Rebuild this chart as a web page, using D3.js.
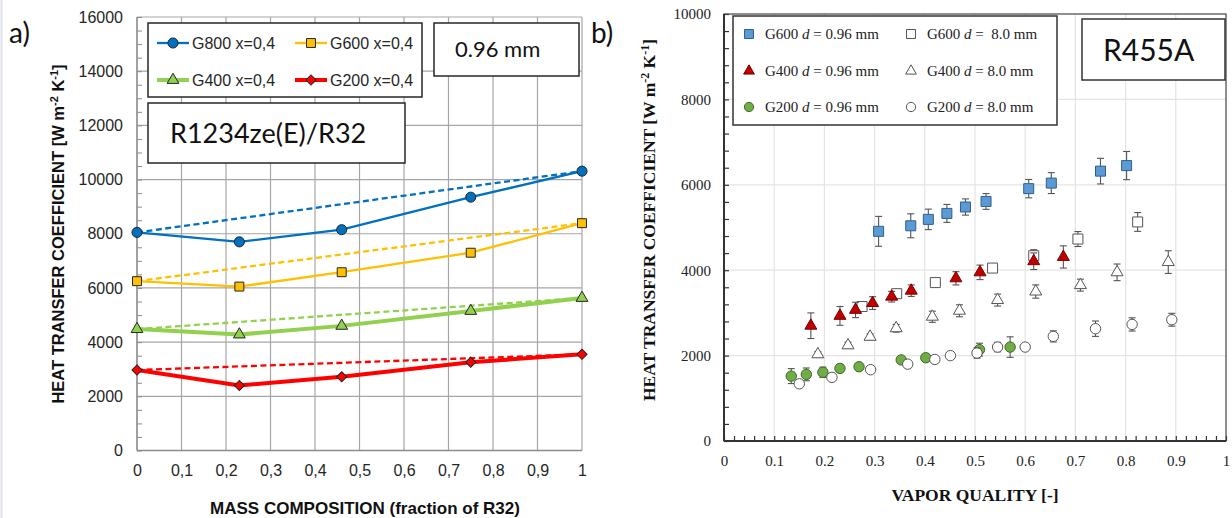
<!DOCTYPE html>
<html>
<head>
<meta charset="utf-8">
<script src="https://cdn.jsdelivr.net/npm/d3@7"></script>
<style>
  body { margin: 0; background: #fff; }
  svg { display: block; }
</style>
</head>
<body>
<svg id="chart" width="1232" height="518"></svg>
<script>
// ---- panel a) : R1234ze(E)/R32, HTC vs mass composition ----
var compX = [0, 0.23, 0.46, 0.75, 1];
var htcG800 = [8050, 7700, 8150, 9350, 10310];
var htcG600 = [6250, 6050, 6580, 7300, 8390];
var htcG400 = [4480, 4280, 4600, 5150, 5630];
var htcG200 = [2970, 2400, 2720, 3260, 3550];
var leftNames = ["G800 x=0,4", "G600 x=0,4", "G400 x=0,4", "G200 x=0,4"];

// ---- panel b) : R455A, HTC vs vapor quality ----
var qG600s = [0.308, 0.372, 0.407, 0.444, 0.481, 0.522, 0.607, 0.652, 0.750, 0.802];
var hG600s = [4910, 5040, 5190, 5330, 5480, 5610, 5910, 6040, 6320, 6450];
var eG600s = [350, 280, 240, 210, 190, 185, 215, 245, 300, 330];
var qG600l = [0.275, 0.344, 0.421, 0.535, 0.617, 0.705, 0.824];
var hG600l = [3150, 3450, 3710, 4050, 4340, 4730, 5130];
var eG600l = [115, 80, 60, 60, 140, 175, 220];
var qG400s = [0.173, 0.231, 0.262, 0.296, 0.334, 0.373, 0.462, 0.510, 0.617, 0.676];
var hG400s = [2700, 2930, 3070, 3230, 3380, 3520, 3810, 3950, 4210, 4310];
var eG400s = [300, 220, 180, 150, 125, 135, 155, 170, 195, 260];
var qG400l = [0.187, 0.247, 0.291, 0.343, 0.415, 0.469, 0.545, 0.621, 0.710, 0.783, 0.885];
var hG400l = [2030, 2240, 2440, 2640, 2910, 3050, 3300, 3500, 3650, 3950, 4190];
var eG400l = [60, 70, 70, 90, 130, 140, 140, 155, 140, 195, 265];
var qG200s = [0.134, 0.164, 0.197, 0.231, 0.269, 0.353, 0.402, 0.509, 0.570];
var hG200s = [1520, 1560, 1610, 1700, 1740, 1900, 1950, 2140, 2200];
var eG200s = [175, 150, 120, 90, 80, 70, 80, 150, 240];
var qG200l = [0.150, 0.215, 0.292, 0.366, 0.420, 0.451, 0.504, 0.545, 0.600, 0.656, 0.740, 0.813, 0.892];
var hG200l = [1340, 1490, 1670, 1800, 1910, 2000, 2060, 2200, 2200, 2450, 2630, 2730, 2840];
var eG200l = [40, 50, 50, 50, 50, 50, 120, 110, 50, 130, 180, 155, 150];

var svg = d3.select("#chart");
var sans = "'Liberation Sans', Arial, sans-serif";
var serif = "'Liberation Serif', 'Times New Roman', serif";
var calib = "Lato, 'Open Sans', sans-serif";

// faint frame line at far left
svg.append("line").attr("x1", 1.5).attr("x2", 1.5).attr("y1", 0).attr("y2", 518)
    .attr("stroke", "#dde2e8").attr("stroke-width", 2);

/* ================= LEFT ================= */
var xL = d3.scaleLinear().domain([0, 1]).range([137, 582]);
var yL = d3.scaleLinear().domain([0, 16000]).range([450.5, 17]);
var gL = svg.append("g");

// grid
gL.append("g").selectAll("line").data(d3.range(0, 1.0001, 0.1)).enter().append("line")
    .attr("x1", function(d) { return xL(d); }).attr("x2", function(d) { return xL(d); })
    .attr("y1", yL(16000)).attr("y2", yL(0))
    .attr("stroke", "#a6a6a6").attr("stroke-width", 1.2);
gL.append("g").selectAll("line").data(d3.range(0, 16001, 2000)).enter().append("line")
    .attr("x1", xL(0)).attr("x2", xL(1))
    .attr("y1", function(d) { return yL(d); }).attr("y2", function(d) { return yL(d); })
    .attr("stroke", "#a6a6a6").attr("stroke-width", 1.2);

// minor ticks inside
gL.append("g").attr("transform", "translate(" + xL(0) + ",0)")
    .call(d3.axisRight(yL).tickValues(d3.range(0, 16001, 500)).tickSize(5).tickFormat(""))
    .call(function(g) { g.select(".domain").remove(); g.selectAll("line").attr("stroke", "#8c8c8c"); });

// axes lines
gL.append("line").attr("x1", xL(0)).attr("x2", xL(0)).attr("y1", yL(16000)).attr("y2", yL(0))
    .attr("stroke", "#8c8c8c").attr("stroke-width", 1.3);
gL.append("line").attr("x1", xL(0)).attr("x2", xL(1)).attr("y1", yL(0)).attr("y2", yL(0))
    .attr("stroke", "#8c8c8c").attr("stroke-width", 1.3);

var yAxL = gL.append("g").attr("transform", "translate(" + xL(0) + ",0)")
    .call(d3.axisLeft(yL).tickValues(d3.range(0, 16001, 2000)).tickSize(0).tickPadding(14)
        .tickFormat(d3.format("d")));
yAxL.select(".domain").remove();
yAxL.selectAll("text").attr("font-family", sans).attr("font-size", 16).attr("fill", "#262626");

var xAxL = gL.append("g").attr("transform", "translate(0," + yL(0) + ")")
    .call(d3.axisBottom(xL).tickValues(d3.range(0, 1.0001, 0.1)).tickSize(0).tickPadding(14)
        .tickFormat(function(d) { return (Math.abs(d) < 1e-9 || Math.abs(d - 1) < 1e-9) ? d3.format("d")(Math.round(d)) : d3.format(".1f")(d).replace(".", ","); }));
xAxL.select(".domain").remove();
xAxL.selectAll("text").attr("font-family", sans).attr("font-size", 16).attr("fill", "#262626");

// series
var leftSeries = [
    { vals: htcG800, color: "#0070C0", w: 2.3, sym: d3.symbolCircle, size: 80, rot: 0 },
    { vals: htcG600, color: "#FFC000", w: 2.3, sym: d3.symbolSquare, size: 80, rot: 0 },
    { vals: htcG400, color: "#92D050", w: 4, sym: d3.symbolTriangle, size: 60, rot: 0 },
    { vals: htcG200, color: "#FF0000", w: 4, sym: d3.symbolSquare, size: 52, rot: 45 }
];
var lineL = d3.line().x(function(d) { return xL(d[0]); }).y(function(d) { return yL(d[1]); });

leftSeries.forEach(function(s) {
    var pts = compX.map(function(x, i) { return [x, s.vals[i]]; });
    // dashed reference between pure components
    gL.append("path").attr("d", lineL([pts[0], pts[pts.length - 1]]))
        .attr("fill", "none").attr("stroke", s.color).attr("stroke-width", 2.3)
        .attr("stroke-dasharray", "6,3.5");
    gL.append("path").attr("d", lineL(pts))
        .attr("fill", "none").attr("stroke", s.color).attr("stroke-width", s.w);
});
leftSeries.forEach(function(s) {
    var pts = compX.map(function(x, i) { return [x, s.vals[i]]; });
    gL.append("g").selectAll("path").data(pts).enter().append("path")
        .attr("d", d3.symbol().type(s.sym).size(s.size))
        .attr("transform", function(d) { return "translate(" + xL(d[0]) + "," + yL(d[1]) + ") rotate(" + s.rot + ")"; })
        .attr("fill", s.color).attr("stroke", "#262626").attr("stroke-width", 1);
});

// legend a)
gL.append("rect").attr("x", 148).attr("y", 23).attr("width", 274).attr("height", 74)
    .attr("fill", "#fff").attr("stroke", "#262626").attr("stroke-width", 1.5);
var legPos = [[157, 43], [295, 43], [157, 80], [295, 80]];
leftSeries.forEach(function(s, i) {
    var p = legPos[i];
    gL.append("line").attr("x1", p[0]).attr("x2", p[0] + 32).attr("y1", p[1]).attr("y2", p[1])
        .attr("stroke", s.color).attr("stroke-width", s.w);
    gL.append("path").attr("d", d3.symbol().type(s.sym).size(s.size))
        .attr("transform", "translate(" + (p[0] + 16) + "," + p[1] + ") rotate(" + s.rot + ")")
        .attr("fill", s.color).attr("stroke", "#262626").attr("stroke-width", 1);
    gL.append("text").attr("x", p[0] + 35).attr("y", p[1] + 5.5).text(leftNames[i])
        .attr("font-family", sans).attr("font-size", 16).attr("fill", "#262626");
});

gL.append("rect").attr("x", 434).attr("y", 23).attr("width", 145).attr("height", 53)
    .attr("fill", "#fff").attr("stroke", "#262626").attr("stroke-width", 1.5);
gL.append("text").attr("x", 455).attr("y", 57).text("0.96 mm")
    .attr("font-family", calib).attr("font-size", 22).attr("fill", "#111");

gL.append("rect").attr("x", 148).attr("y", 103).attr("width", 257).attr("height", 60)
    .attr("fill", "#fff").attr("stroke", "#262626").attr("stroke-width", 1.5);
gL.append("text").attr("x", 170).attr("y", 143).text("R1234ze(E)/R32")
    .attr("font-family", calib).attr("font-size", 27).attr("fill", "#111");

// axis titles a)
var ytL = gL.append("text").attr("transform", "translate(64,234) rotate(-90)")
    .attr("text-anchor", "middle").attr("font-family", sans).attr("font-size", 16.5)
    .attr("font-weight", "bold").attr("fill", "#111");
ytL.append("tspan").text("HEAT TRANSFER COEFFICIENT [W m");
ytL.append("tspan").text("-2").attr("font-size", 11).attr("dy", -6);
ytL.append("tspan").text(" K").attr("dy", 6);
ytL.append("tspan").text("-1").attr("font-size", 11).attr("dy", -6);
ytL.append("tspan").text("]").attr("dy", 6);

gL.append("text").attr("x", 365).attr("y", 514).attr("text-anchor", "middle")
    .attr("font-family", sans).attr("font-size", 17).attr("font-weight", "bold").attr("fill", "#111")
    .text("MASS COMPOSITION (fraction of R32)");

svg.append("text").attr("x", 9).attr("y", 43).text("a)")
    .attr("font-family", calib).attr("font-size", 28).attr("fill", "#111");
svg.append("text").attr("x", 591).attr("y", 43).text("b)")
    .attr("font-family", calib).attr("font-size", 28).attr("fill", "#111");

/* ================= RIGHT ================= */
var xR = d3.scaleLinear().domain([0, 1]).range([724, 1226]);
var yR = d3.scaleLinear().domain([0, 10000]).range([441, 14]);
var gR = svg.append("g");

gR.append("g").selectAll("line").data(d3.range(0.1, 1, 0.1)).enter().append("line")
    .attr("x1", function(d) { return xR(d); }).attr("x2", function(d) { return xR(d); })
    .attr("y1", yR(10000)).attr("y2", yR(0))
    .attr("stroke", "#e4e4e4").attr("stroke-width", 1.2);
gR.append("g").selectAll("line").data(d3.range(2000, 10000, 2000)).enter().append("line")
    .attr("x1", xR(0)).attr("x2", xR(1))
    .attr("y1", function(d) { return yR(d); }).attr("y2", function(d) { return yR(d); })
    .attr("stroke", "#e4e4e4").attr("stroke-width", 1.2);

// inward minor ticks
gR.append("g").attr("transform", "translate(0," + yR(0) + ")")
    .call(d3.axisBottom(xR).tickValues(d3.range(0, 1.0001, 0.02)).tickSize(-5).tickFormat(""))
    .call(function(g) { g.select(".domain").remove(); g.selectAll("line").attr("stroke", "#333").attr("stroke-width", 1.2); });
gR.append("g").attr("transform", "translate(" + xR(0) + ",0)")
    .call(d3.axisLeft(yR).tickValues(d3.range(0, 10001, 400)).tickSize(-5).tickFormat(""))
    .call(function(g) { g.select(".domain").remove(); g.selectAll("line").attr("stroke", "#333").attr("stroke-width", 1.2); });

gR.append("rect").attr("x", xR(0)).attr("y", yR(10000)).attr("width", xR(1) - xR(0)).attr("height", yR(0) - yR(10000))
    .attr("fill", "none").attr("stroke", "#444").attr("stroke-width", 1.2);
gR.append("line").attr("x1", xR(0)).attr("x2", xR(0)).attr("y1", yR(10000)).attr("y2", yR(0))
    .attr("stroke", "#333").attr("stroke-width", 2);
gR.append("line").attr("x1", xR(0)).attr("x2", xR(1)).attr("y1", yR(0)).attr("y2", yR(0))
    .attr("stroke", "#333").attr("stroke-width", 2);

var yAxR = gR.append("g").attr("transform", "translate(" + xR(0) + ",0)")
    .call(d3.axisLeft(yR).tickValues(d3.range(0, 10001, 2000)).tickSize(0).tickPadding(13)
        .tickFormat(d3.format("d")));
yAxR.select(".domain").remove();
yAxR.selectAll("text").attr("font-family", serif).attr("font-size", 15).attr("fill", "#222");

var xAxR = gR.append("g").attr("transform", "translate(0," + yR(0) + ")")
    .call(d3.axisBottom(xR).tickValues(d3.range(0, 1.0001, 0.1)).tickSize(0).tickPadding(14)
        .tickFormat(function(d) { return d3.format("~g")(+d.toFixed(1)); }));
xAxR.select(".domain").remove();
xAxR.selectAll("text").attr("font-family", serif).attr("font-size", 15).attr("fill", "#222");

var rightSeries = [
    { q: qG200s, h: hG200s, e: eG200s, sym: d3.symbolCircle, size: 85, fill: "#70AD47", stroke: "#3d6a25" },
    { q: qG200l, h: hG200l, e: eG200l, sym: d3.symbolCircle, size: 85, fill: "#fff", stroke: "#555" },
    { q: qG400l, h: hG400l, e: eG400l, sym: d3.symbolTriangle, size: 62, fill: "#fff", stroke: "#555" },
    { q: qG600l, h: hG600l, e: eG600l, sym: d3.symbolSquare, size: 100, fill: "#fff", stroke: "#555" },
    { q: qG400s, h: hG400s, e: eG400s, sym: d3.symbolTriangle, size: 62, fill: "#C00000", stroke: "#7a0000" },
    { q: qG600s, h: hG600s, e: eG600s, sym: d3.symbolSquare, size: 100, fill: "#5B9BD5", stroke: "#2f5f8c" }
];

rightSeries.forEach(function(s) {
    var pts = s.q.map(function(q, i) { return { q: q, h: s.h[i], e: s.e[i] }; });
    var eb = gR.append("g").attr("stroke", "#555").attr("stroke-width", 1.1);
    eb.selectAll(".v").data(pts).enter().append("line")
        .attr("x1", function(d) { return xR(d.q); }).attr("x2", function(d) { return xR(d.q); })
        .attr("y1", function(d) { return yR(d.h - d.e); }).attr("y2", function(d) { return yR(d.h + d.e); });
    eb.selectAll(".t").data(pts).enter().append("line")
        .attr("x1", function(d) { return xR(d.q) - 3.5; }).attr("x2", function(d) { return xR(d.q) + 3.5; })
        .attr("y1", function(d) { return yR(d.h + d.e); }).attr("y2", function(d) { return yR(d.h + d.e); });
    eb.selectAll(".b").data(pts).enter().append("line")
        .attr("x1", function(d) { return xR(d.q) - 3.5; }).attr("x2", function(d) { return xR(d.q) + 3.5; })
        .attr("y1", function(d) { return yR(d.h - d.e); }).attr("y2", function(d) { return yR(d.h - d.e); });
    gR.append("g").selectAll("path").data(pts).enter().append("path")
        .attr("d", d3.symbol().type(s.sym).size(s.size))
        .attr("transform", function(d) { return "translate(" + xR(d.q) + "," + yR(d.h) + ")"; })
        .attr("fill", s.fill).attr("stroke", s.stroke).attr("stroke-width", 1);
});

// legend b)
gR.append("rect").attr("x", 733).attr("y", 16).attr("width", 324).attr("height", 109)
    .attr("fill", "#fff").attr("stroke", "#333").attr("stroke-width", 1.5);
var legR = [
    { s: rightSeries[5], x: 749, y: 34, g: "G600 ", tail: " = 0.96 mm" },
    { s: rightSeries[3], x: 911, y: 34, g: "G600 ", tail: " =  8.0 mm" },
    { s: rightSeries[4], x: 749, y: 71, g: "G400 ", tail: " = 0.96 mm" },
    { s: rightSeries[2], x: 911, y: 71, g: "G400 ", tail: " = 8.0 mm" },
    { s: rightSeries[0], x: 749, y: 107, g: "G200 ", tail: " = 0.96 mm" },
    { s: rightSeries[1], x: 911, y: 107, g: "G200 ", tail: " = 8.0 mm" }
];
legR.forEach(function(l) {
    gR.append("path").attr("d", d3.symbol().type(l.s.sym).size(l.s.size * 0.8))
        .attr("transform", "translate(" + l.x + "," + l.y + ")")
        .attr("fill", l.s.fill).attr("stroke", l.s.stroke).attr("stroke-width", 1);
    var t = gR.append("text").attr("x", l.x + 16).attr("y", l.y + 5)
        .attr("font-family", serif).attr("font-size", 15).attr("fill", "#222")
        .attr("xml:space", "preserve").style("white-space", "pre");
    t.append("tspan").text(l.g);
    t.append("tspan").text("d").attr("font-style", "italic");
    t.append("tspan").text(l.tail);
});

gR.append("rect").attr("x", 1082).attr("y", 19).attr("width", 143).attr("height", 61)
    .attr("fill", "#fff").attr("stroke", "#333").attr("stroke-width", 1.5);
gR.append("text").attr("x", 1103).attr("y", 61).text("R455A")
    .attr("font-family", calib).attr("font-size", 30).attr("fill", "#111");

var ytR = gR.append("text").attr("transform", "translate(655,220) rotate(-90)")
    .attr("text-anchor", "middle").attr("font-family", serif).attr("font-size", 17.5)
    .attr("font-weight", "bold").attr("fill", "#111");
ytR.append("tspan").text("HEAT TRANSFER COEFFICIENT [W m");
ytR.append("tspan").text("-2").attr("font-size", 12).attr("dy", -6);
ytR.append("tspan").text(" K").attr("dy", 6);
ytR.append("tspan").text("-1").attr("font-size", 12).attr("dy", -6);
ytR.append("tspan").text("]").attr("dy", 6);

gR.append("text").attr("x", 975).attr("y", 501).attr("text-anchor", "middle")
    .attr("font-family", serif).attr("font-size", 17.5).attr("font-weight", "bold").attr("fill", "#111")
    .text("VAPOR QUALITY [-]");
</script>
</body>
</html>
